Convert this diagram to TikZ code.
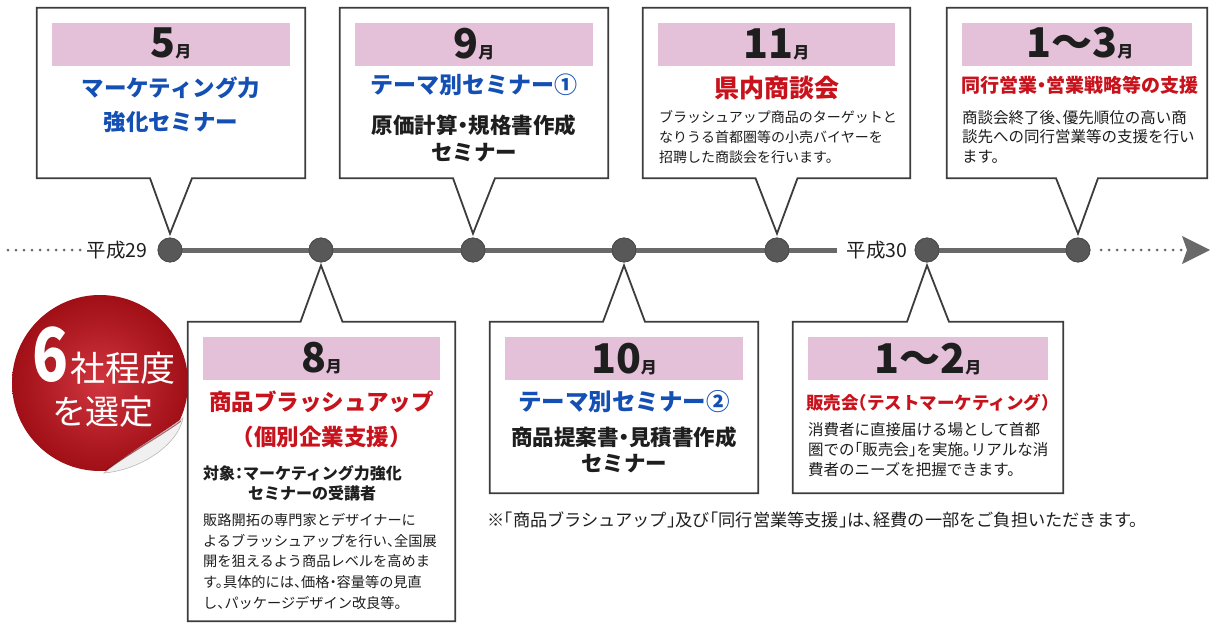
\documentclass[tikz,border=0pt]{standalone}
\usepackage{fontspec}
\setmainfont{Noto Sans CJK JP}[RawFeature=+halt]
\usetikzlibrary{calc}
\definecolor{bordergray}{RGB}{60,60,60}
\definecolor{pinkband}{RGB}{229,192,217}
\definecolor{tblue}{RGB}{20,80,180}
\definecolor{tred}{RGB}{200,18,28}
\definecolor{tgray}{RGB}{105,105,105}
\definecolor{dotgray}{RGB}{88,88,88}
\definecolor{txt}{RGB}{30,30,30}
\newcommand\calloutdown[2]{\draw[outline] (#1.north west) -- (#1.north east) -- (#1.south east) -- ($(#1.south)+(21,0)$) -- ($(#2.north)+(0,-4)$) -- ($(#1.south)+(-21,0)$) -- (#1.south west) -- cycle;
\fill[pinkband] ($(#1.north west)+(15,15)$) rectangle ($(#1.north east)+(-15,58)$);}
\newcommand\calloutup[2]{\draw[outline] (#1.south west) -- (#1.south east) -- (#1.north east) -- ($(#1.north)+(21,0)$) -- ($(#2.south)+(0,3)$) -- ($(#1.north)+(-21,0)$) -- (#1.north west) -- cycle;
\fill[pinkband] ($(#1.north west)+(15,15)$) rectangle ($(#1.north east)+(-15,58)$);}
\newcommand\monthlbl[1]{{\fontsize{41}{41}\selectfont\bfseries #1}{\fontsize{16}{16}\selectfont\bfseries 月}}
\begin{document}
\begin{tikzpicture}[x=1pt,y=-1pt,
  box/.style={draw=none,inner sep=0pt,minimum height=170pt},
  outline/.style={draw=bordergray,line width=1.8pt,fill=white,line join=miter},
  dotnode/.style={circle,fill=dotgray,draw=dotgray!85!black,line width=0.8pt,minimum size=24pt,inner sep=0pt},
  tl/.style={draw=tgray,line width=5pt},
  dotline/.style={draw=tgray,line width=3pt,line cap=round,dash pattern=on 0pt off 8pt},
  mlabel/.style={anchor=base,inner sep=0pt,text=txt},
  ttl/.style={align=center,inner sep=0pt,font=\bfseries},
  body/.style={align=left,anchor=west,inner sep=0pt,text=txt},
  era/.style={inner sep=0pt,text=txt,font=\fontsize{19.5}{19.5}\selectfont}]
\useasboundingbox (0,0) rectangle (1211,623);
\fill[white] (0,0) rectangle (1211,623);

% timeline
\node[dotnode] (d1) at (170,250) {};
\node[dotnode] (d2) at (321,250) {};
\node[dotnode] (d3) at (473,250) {};
\node[dotnode] (d4) at (624,250) {};
\node[dotnode] (d5) at (777,250) {};
\node[dotnode] (d6) at (927,250) {};
\node[dotnode] (d7) at (1078,250) {};
\coordinate (ls) at (8,250);
\coordinate (e30) at (837,250);
\coordinate (rs) at (1101,250);
\coordinate (ar) at (1182,250);
\node[era] (h29) at (117,250) {平成29};
\node[era] (h30) at (877,250) {平成30};
\draw[tl] (d1) -- (e30);
\draw[tl] (d6) -- (d7);
\draw[dotline] (ls) -- ($(h29.west)+(-4,0)$);
\draw[dotline] (rs) -- (ar);
\fill[tgray] (ar) ++(0,-14) -- ++(28,14) -- ++(-28,14) -- ++(5,-14) -- cycle;
\foreach \d in {d1,d2,d3,d4,d5,d6,d7}{\node[dotnode] at (\d) {};}

% top boxes
\node[box,minimum width=268pt] (b5) at (171,93) {};
\node[box,minimum width=268pt] (b9) at (474,93) {};
\node[box,minimum width=267pt] (b11) at (776.5,93) {};
\node[box,minimum width=260pt] (b13) at (1077,93) {};
\calloutdown{b5}{d1}
\calloutdown{b9}{d3}
\calloutdown{b11}{d5}
\calloutdown{b13}{d7}

\node[mlabel] (m5) at (171,58) {\monthlbl{5}};
\node[mlabel] (m9) at (474,59) {\monthlbl{9}};
\node[mlabel] (m11) at (776.5,59) {\monthlbl{11}};
\node[mlabel] (m13) at (1080,58) {\monthlbl{1～3}};

\node[ttl,text=tblue,font=\fontsize{22.5}{34}\selectfont\bfseries] (t5) at (171,105) {マーケティング力\\強化セミナー};
\node[ttl,text=tblue,font=\fontsize{23}{23}\selectfont\bfseries] (t9) at (474,85) {テーマ別セミナー①};
\node[ttl,text=txt,font=\fontsize{21.5}{27}\selectfont\bfseries] (s9) at (474,138.5) {原価計算・規格書作成\\セミナー};
\node[ttl,text=tred,font=\fontsize{25}{25}\selectfont\bfseries] (t11) at (776.5,88) {県内商談会};
\node[body,font=\fontsize{14}{20}\selectfont] (s11) at (659,137) {ブラッシュアップ商品のターゲットと\\なりうる首都圏等の小売バイヤーを\\招聘した商談会を行います。};
\node[ttl,text=tred,font=\fontsize{19}{19}\selectfont\bfseries] (t13) at (1080,85) {同行営業・営業戦略等の支援};
\node[body,font=\fontsize{15.5}{19.5}\selectfont] (s13) at (962,136.5) {商談会終了後、優先順位の高い商\\談先への同行営業等の支援を行い\\ます。};

% bottom boxes
\node[box,minimum width=267pt,minimum height=299pt] (b8) at (321.5,471.5) {};
\node[box,minimum width=268pt,minimum height=171pt] (b10) at (624,407.5) {};
\node[box,minimum width=270pt,minimum height=171pt] (b12) at (928,407.5) {};
\calloutup{b8}{d2}
\calloutup{b10}{d4}
\calloutup{b12}{d6}

\node[mlabel] (m8) at (321.5,372) {\monthlbl{8}};
\node[mlabel] (m10) at (624,373) {\monthlbl{10}};
\node[mlabel] (m12) at (928,373) {\monthlbl{1～2}};

\node[ttl,text=tred,font=\fontsize{22.5}{35}\selectfont\bfseries] (t8) at (321.5,419.5) {商品ブラッシュアップ\\（個別企業支援）};
\node[body,font=\fontsize{16}{20}\selectfont\bfseries] (o8) at (203,483) {対象：マーケティング力強化\\\hspace*{45pt}セミナーの受講者};
\node[body,font=\fontsize{14.2}{20.75}\selectfont] (s8) at (203,561.5) {販路開拓の専門家とデザイナーに\\よるブラッシュアップを行い、全国展\\開を狙えるよう商品レベルを高めま\\す。具体的には、価格・容量等の見直\\し、パッケージデザイン改良等。};
\node[ttl,text=tblue,font=\fontsize{23.5}{23.5}\selectfont\bfseries] (t10) at (624,402) {テーマ別セミナー②};
\node[ttl,text=txt,font=\fontsize{21.5}{26}\selectfont\bfseries] (s10) at (624,450) {商品提案書・見積書作成\\セミナー};
\node[ttl,text=tred,font=\fontsize{17.5}{17.5}\selectfont\bfseries] (t12) at (928,403) {販売会（テストマーケティング）};
\node[body,font=\fontsize{15.5}{20}\selectfont] (s12) at (808,450) {消費者に直接届ける場として首都\\圏での「販売会」を実施。リアルな消\\費者のニーズを把握できます。};

% footnote
\node[body,font=\fontsize{17.2}{17.2}\selectfont] (fn) at (487,520) {※「商品ブラシュアップ」及び「同行営業等支援」は、経費の一部をご負担いただきます。};

% red seal
\coordinate (sc) at (100,383);
\shade[inner color=tred!85!white,outer color=tred!80!black] (sc) circle[radius=88pt];
\begin{scope}
\clip (sc) circle[radius=88pt];
\fill[white] (104,473) .. controls (140,470) and (178,445) .. (183,418) -- (200,410) -- (200,480) -- cycle;
\end{scope}
\fill[gray!12,draw=gray!55,line width=0.6pt] (104,473) .. controls (140,470) and (178,445) .. (183,418) .. controls (165,432) and (130,452) .. cycle;
\draw[tred!60!black,line width=1pt,opacity=0.6] (106,470) .. controls (132,452) and (165,433) .. (181,421);
\node[inner sep=0pt,anchor=base,text=white] (six) at (104,381) {\scalebox{0.8}[1]{\fontsize{74}{74}\selectfont\bfseries 6}\,{\fontsize{35}{35}\selectfont 社程度}};
\node[inner sep=0pt,text=white,font=\fontsize{34}{34}\selectfont] (sel) at (103,412) {を選定};
\end{tikzpicture}
\end{document}
